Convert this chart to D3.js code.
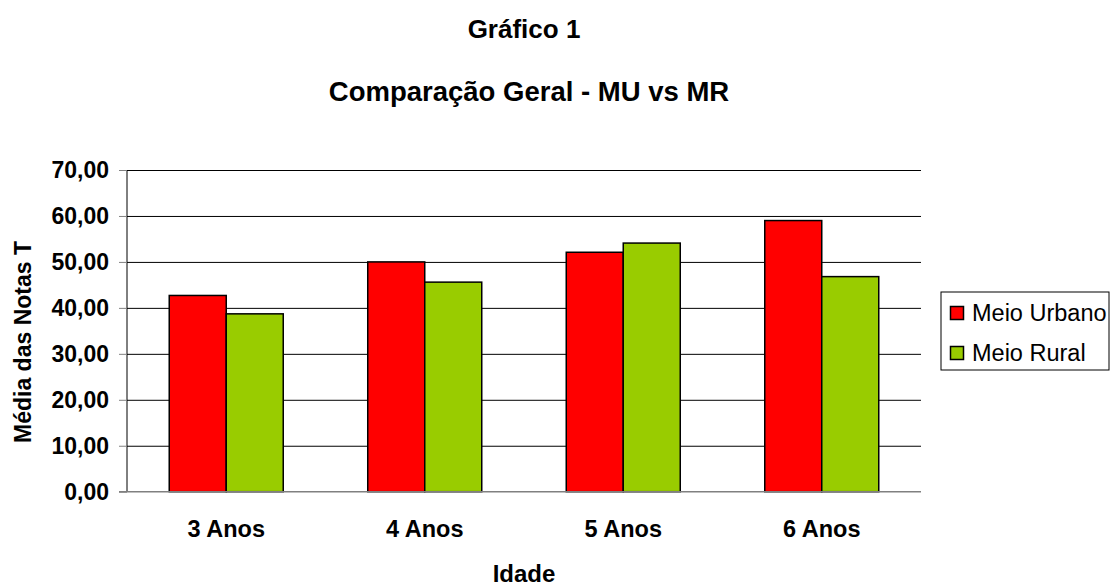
<!DOCTYPE html>
<html>
<head>
<meta charset="utf-8">
<script src="https://cdn.jsdelivr.net/npm/d3@7"></script>
<style>
  body { margin: 0; background: #fff; }
  svg { display: block; font-family: "Liberation Sans", Arial, sans-serif; }
</style>
</head>
<body>
<div id="chart"></div>
<script>
const categories = ["3 Anos", "4 Anos", "5 Anos", "6 Anos"]
const seriesNames = ["Meio Urbano", "Meio Rural"]
const urbano = [42.7, 50.0, 52.1, 59.0]
const rural = [38.7, 45.6, 54.1, 46.8]
const yTicks = [0, 10, 20, 30, 40, 50, 60, 70]
const colors = ["#ff0000", "#99cc00"]

const width = 1110, height = 588
const margin = { top: 170, right: 189, bottom: 96.3, left: 127 }
const innerW = width - margin.left - margin.right
const innerH = height - margin.top - margin.bottom

const svg = d3.select("#chart").append("svg")
  .attr("width", width)
  .attr("height", height)

const x0 = d3.scaleBand()
  .domain(categories)
  .range([0, innerW])
  .paddingInner(0.4257)
  .paddingOuter(0.2128)
const x1 = d3.scaleBand()
  .domain(seriesNames)
  .range([0, x0.bandwidth()])
const y = d3.scaleLinear()
  .domain([0, 70])
  .range([innerH, 0])

const g = svg.append("g").attr("transform", `translate(${margin.left},${margin.top})`)

// gridlines
g.append("g")
  .call(d3.axisLeft(y).tickValues(yTicks.slice(1)).tickSize(-innerW).tickFormat(""))
  .call(s => s.select(".domain").remove())
  .selectAll("line").attr("stroke", "#000").attr("stroke-width", 1)

// left axis with ticks and labels
const yAxis = g.append("g")
  .call(d3.axisLeft(y).tickValues(yTicks).tickSize(8).tickPadding(10)
    .tickFormat(d => d.toFixed(2).replace(".", ",")))
yAxis.select(".domain").attr("stroke", "#000").attr("d", `M0,0V${innerH}`)
yAxis.selectAll(".tick line").attr("stroke", "#808080")
yAxis.selectAll("text")
  .attr("font-size", "23px")
  .attr("font-weight", "bold")
  .attr("fill", "#000")
  .attr("font-family", "Liberation Sans, Arial, sans-serif")

// bars
const rows = categories.map((c, i) => ({ cat: c, vals: [urbano[i], rural[i]] }))
const groups = g.selectAll(".cat").data(rows).enter().append("g")
  .attr("class", "cat")
  .attr("transform", d => `translate(${x0(d.cat)},0)`)
groups.selectAll("rect")
  .data(d => d.vals.map((v, k) => ({ name: seriesNames[k], v, k })))
  .enter().append("rect")
  .attr("x", d => x1(d.name))
  .attr("y", d => y(d.v))
  .attr("width", x1.bandwidth())
  .attr("height", d => innerH - y(d.v))
  .attr("fill", d => colors[d.k])
  .attr("stroke", "#000")
  .attr("stroke-width", 1.5)

// bottom axis line
g.append("line")
  .attr("x1", -8).attr("x2", innerW)
  .attr("y1", innerH).attr("y2", innerH)
  .attr("stroke", "#808080").attr("stroke-width", 1.5)

// category labels
g.selectAll(".catlabel").data(categories).enter().append("text")
  .attr("x", d => x0(d) + x0.bandwidth() / 2)
  .attr("y", innerH + 45)
  .attr("text-anchor", "middle")
  .attr("font-size", "23.5px")
  .attr("font-weight", "bold")
  .text(d => d)

// titles
const cx = margin.left + innerW / 2
svg.append("text").attr("x", cx).attr("y", 38)
  .attr("text-anchor", "middle").attr("font-size", "26px").attr("font-weight", "bold")
  .text("Gráfico 1")
svg.append("text").attr("x", cx + 5).attr("y", 101)
  .attr("text-anchor", "middle").attr("font-size", "27.5px").attr("font-weight", "bold")
  .text("Comparação Geral - MU vs MR")

// axis titles
svg.append("text").attr("x", cx).attr("y", 582)
  .attr("text-anchor", "middle").attr("font-size", "24px").attr("font-weight", "bold")
  .text("Idade")
svg.append("text")
  .attr("transform", `translate(31,342) rotate(-90)`)
  .attr("text-anchor", "middle").attr("font-size", "23px").attr("font-weight", "bold")
  .text("Média das Notas T")

// legend
const leg = svg.append("g").attr("transform", "translate(941,292)")
leg.append("rect").attr("x", 0).attr("y", 0).attr("width", 168).attr("height", 78)
  .attr("fill", "#fff").attr("stroke", "#000").attr("stroke-width", 1)
seriesNames.forEach((n, i) => {
  const yy = 21 + i * 40
  leg.append("rect").attr("x", 9.5).attr("y", yy - 6.5).attr("width", 13).attr("height", 13)
    .attr("fill", colors[i]).attr("stroke", "#000").attr("stroke-width", 1.5)
  leg.append("text").attr("x", 31).attr("y", yy).attr("dy", "0.35em")
    .attr("font-size", "23.5px").text(n)
})
</script>
</body>
</html>
